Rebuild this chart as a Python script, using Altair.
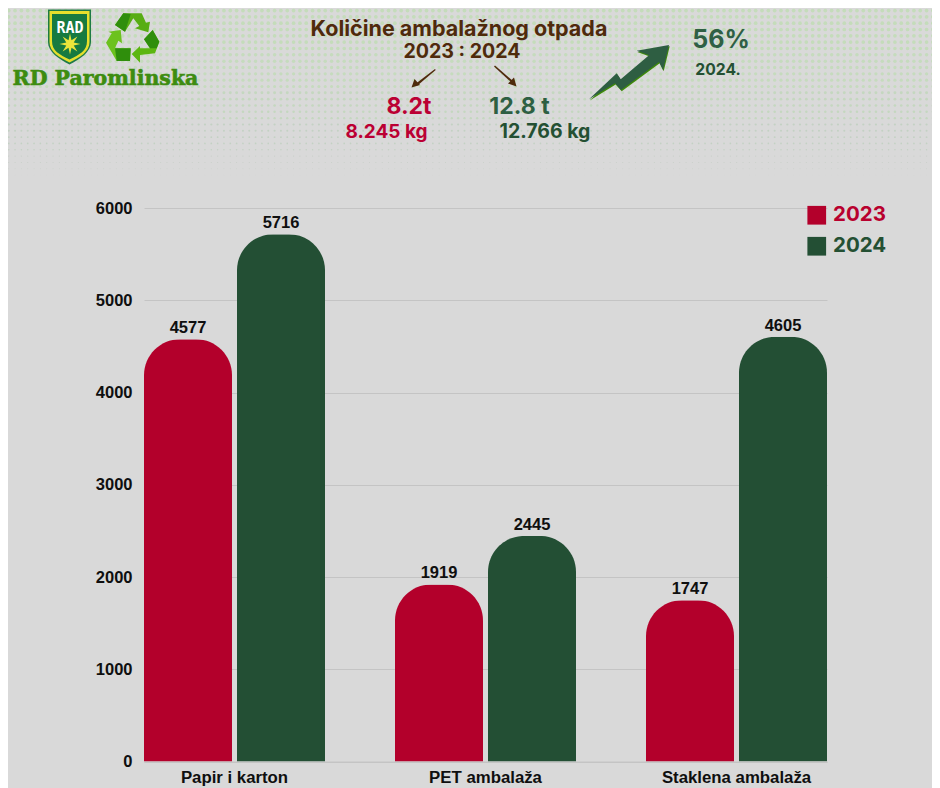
import altair as alt
import pandas as pd

# --- chart values
categories = ["Papir i karton", "PET ambalaža", "Staklena ambalaža"]
values_2023 = [4577, 1919, 1747]
values_2024 = [5716, 2445, 4605]
years = ["2023", "2024"]
y_ticks = [0, 1000, 2000, 3000, 4000, 5000, 6000]

RED, GREEN = "#b3002b", "#234f34"
BG = "#d9d9d9"
FONT = "Liberation Sans"
HEAD = "Inter"

rows = []
for c, a, b in zip(categories, values_2023, values_2024):
    rows.append({"cat": c, "year": "2023", "v": a})
    rows.append({"cat": c, "year": "2024", "v": b})
df = pd.DataFrame(rows)

# --- page-pixel scales for the decoration (view x = page x - 144, view y = page y - 208)
PX = alt.Scale(domain=[0, 940], range=[-144, 796], zero=False, nice=False)
PY = alt.Scale(domain=[0, 788], range=[-208, 580], zero=False, nice=False)
px = lambda f="x": alt.X(f"{f}:Q", scale=PX, axis=None)
py = lambda f="y": alt.Y(f"{f}:Q", scale=PY, axis=None)

# --- halftone band
def dot_style(y):
    stops = [(0, 4.3, "#c4dcba"), (50, 4.1, "#c5dbbd"), (90, 3.4, "#c4d7bf"),
             (120, 2.6, "#c3d1c3"), (150, 1.7, "#c8cfc8"), (175, 0.8, "#d0d3d0")]
    for (y0, d0, c0), (y1, d1, c1) in zip(stops, stops[1:]):
        if y <= y1:
            return d0 + (d1 - d0) * (y - y0) / (y1 - y0), c0
    return 0.6, stops[-1][2]

dots = []
for r in range(28):
    yy = 4.2 + r * 6.33
    d, col = dot_style(yy)
    for k in range(149):
        dots.append({"x": 2.4 + k * 6.33, "y": yy, "s": 0.785 * d * d, "c": col})
dots_layer = alt.Chart(pd.DataFrame(dots)).mark_circle(opacity=1).encode(
    x=px(), y=py(),
    size=alt.Size("s:Q", scale=None, legend=None),
    color=alt.Color("c:N", scale=None, legend=None),
)

# --- logo / arrow shapes, in page pixels
def poly(points, ox=0, oy=0, k=1):
    return "M" + "L".join(f"{ox + x * k:.1f},{oy + y * k:.1f}" for x, y in points) + "Z"

def star(cx, cy, r1, r2, n=8):
    import math
    pts = []
    for i in range(2 * n):
        r = r1 if i % 2 == 0 else r2
        a = math.pi * i / n - math.pi / 2
        pts.append((cx + r * math.cos(a), cy + r * math.sin(a)))
    return poly(pts)

def shield(x0, x1, y0, ys, yb):
    cx = (x0 + x1) / 2
    return (f"M{x0},{y0}L{x1},{y0}L{x1},{ys}C{x1},{ys + 10} {cx + 10},{yb - 5} {cx},{yb}"
            f"C{cx - 10},{yb - 5} {x0},{ys + 10} {x0},{ys}Z")

Z1 = dict(k=1 / 3)
arrow_main = [(12, 178), (95, 100), (107, 118), (192, 46), (155, 32), (252, 15), (234, 90), (222, 66), (108, 150), (90, 130)]
shapes = [
    (shield(48, 91, 9.5, 42, 64.5), "#1f7a47"),
    (shield(49.5, 89.5, 11, 42, 62.5), "#e6df2c"),
    (shield(52, 87, 14, 41, 59.5), "#177a40"),
    (star(70, 44, 10.5, 4), "#ece53a"),
    (poly([(345, 75), (370, 40), (425, 40), (438, 68), (450, 65), (445, 97), (405, 85), (418, 78), (400, 55), (375, 95)], **Z1), "#57ad12"),
    (poly([(345, 75), (370, 40), (392, 42), (375, 95)], **Z1), "#2f8e0c"),
    (poly([(458, 90), (478, 125), (465, 160), (420, 165), (420, 188), (395, 162), (420, 138), (420, 145), (450, 145), (432, 118)], **Z1), "#5cb612"),
    (poly([(458, 90), (478, 125), (470, 145), (450, 145), (432, 118)], **Z1), "#2f8e0c"),
    (poly([(318, 128), (335, 100), (325, 95), (362, 90), (366, 130), (355, 122), (345, 145), (392, 145), (390, 183), (350, 183)], **Z1), "#6cc21e"),
    (poly([(345, 145), (392, 145), (390, 183), (350, 183)], **Z1), "#2f8e0c"),
    (poly(arrow_main, ox=585 + 2 / 3, oy=40 + 1.2, k=1 / 3), "#3f8a0a"),
    (poly(arrow_main, ox=585, oy=40, k=1 / 3), "#2e5e42"),
    ("M435,69L416,83.5L417.5,85.5L435.7,70Z", "#4f2a0c"),
    ("M411.5,87.5L420,85L414.5,79Z", "#4f2a0c"),
    ("M494,66.5L512,83L513,81L495,65.5Z", "#4f2a0c"),
    ("M516.5,86.5L508,83.5L514,77.5Z", "#4f2a0c"),
]
shape_layer = alt.Chart(
    pd.DataFrame([{"x": 0, "y": 0, "p": p, "c": c, "i": i} for i, (p, c) in enumerate(shapes)])
).mark_point(filled=True, opacity=1, size=4, strokeWidth=0).encode(
    x=px(), y=py(),
    shape=alt.Shape("p:N", scale=None, legend=None),
    color=alt.Color("c:N", scale=None, legend=None),
    order="i:Q",
)

# --- texts
head_texts = [
    ("Količine ambalažnog otpada", 459, 36, 21.5, "#4f2a0c"),
    ("2023 : 2024", 462, 58, 19.6, "#4f2a0c"),
    ("8.2t", 409, 114, 23, "#bb0033"),
    ("12.8 t", 519.5, 114, 23, "#2d5f42"),
    ("8.245 kg", 386.5, 138, 19, "#bb0033"),
    ("12.766 kg", 545, 138, 19.5, "#245033"),
    ("56%", 721, 48, 25, "#2f6044"),
    ("2024.", 718, 75, 15.7, "#245033"),
]
text_layer = alt.Chart(
    pd.DataFrame(head_texts, columns=["t", "x", "y", "s", "c"])
).mark_text(font=HEAD, fontWeight="bold", baseline="alphabetic", align="center").encode(
    x=px(), y=py(), text="t:N",
    size=alt.Size("s:Q", scale=None, legend=None),
    color=alt.Color("c:N", scale=None, legend=None),
)
logo_text = alt.Chart(pd.DataFrame([
    {"t": "RD Paromlinska", "x": 105.5, "y": 85, "s": 20.5, "c": "#3d8c10"},
])).mark_text(font="DejaVu Serif", fontWeight="bold", baseline="alphabetic",
              stroke="#3d8c10", strokeWidth=0.6).encode(
    x=px(), y=py(), text="t:N",
    size=alt.Size("s:Q", scale=None, legend=None),
    color=alt.Color("c:N", scale=None, legend=None),
)
rad_text = alt.Chart(pd.DataFrame([{"t": "RAD", "x": 70, "y": 32.5}])).mark_text(
    font="DejaVu Sans Mono", fontWeight="bold", baseline="alphabetic", size=15, color="white"
).encode(x=px(), y=py(), text="t:N")

# --- bars
X = alt.X(
    "cat:N", sort=categories, title=None,
    scale=alt.Scale(paddingInner=70 / 251, paddingOuter=0),
    axis=alt.Axis(labelAngle=0, labelFont=FONT, labelFontWeight="bold", labelFontSize=16.8,
                  labelColor="#0f0f0f", ticks=False, domainColor="#c4c4c4", labelPadding=8,
                  grid=False),
)
XO = alt.XOffset("year:N", sort=years, scale=alt.Scale(paddingInner=5 / 93, paddingOuter=0))
Y = alt.Y(
    "v:Q", title=None,
    scale=alt.Scale(domain=[0, 6000], nice=False),
    axis=alt.Axis(values=y_ticks, format="d", labelFont=FONT, labelFontWeight="bold", labelFontSize=16.5,
                  labelColor="#0f0f0f", ticks=False, domain=False, labelPadding=12,
                  gridColor="#c4c4c4", grid=True),
)
bars = alt.Chart(df).mark_bar(cornerRadiusTopLeft=36, cornerRadiusTopRight=36).encode(
    x=X, xOffset=XO, y=Y,
    color=alt.Color(
        "year:N", sort=years,
        scale=alt.Scale(domain=years, range=[RED, GREEN]),
        legend=alt.Legend(
            title=None, orient="none", legendX=662.5, legendY=-3,
            symbolType="square", symbolSize=350, symbolStrokeWidth=0, symbolOpacity=1,
            labelFont=HEAD, labelFontWeight="bold", labelFontSize=20.5,
            labelColor={"expr": "datum.label == '2023' ? '#b8002e' : '#245033'"},
            labelOffset=6, rowPadding=10,
        ),
    ),
)
labels = alt.Chart(df).mark_text(
    font=FONT, fontWeight="bold", fontSize=16.5, color="#0f0f0f", baseline="alphabetic", dy=-6
).encode(
    x=alt.X("cat:N", sort=categories, axis=None, scale=alt.Scale(paddingInner=70 / 251, paddingOuter=0)),
    xOffset=XO,
    y=alt.Y("v:Q", axis=None, scale=alt.Scale(domain=[0, 6000], nice=False)),
    text="v:Q",
)

chart = alt.layer(
    dots_layer, shape_layer, text_layer, logo_text, rad_text, bars, labels
).resolve_scale(
    x="independent", y="independent", color="independent", size="independent", shape="independent"
).properties(
    width=683, height=553.5, background=BG,
    padding={"left": 136, "right": 105, "top": 200, "bottom": 28.5},
    autosize=alt.AutoSizeParams(type="none"),
).configure_view(stroke=None)

chart.save("out.html", embed_options={"renderer": "svg", "actions": False})
